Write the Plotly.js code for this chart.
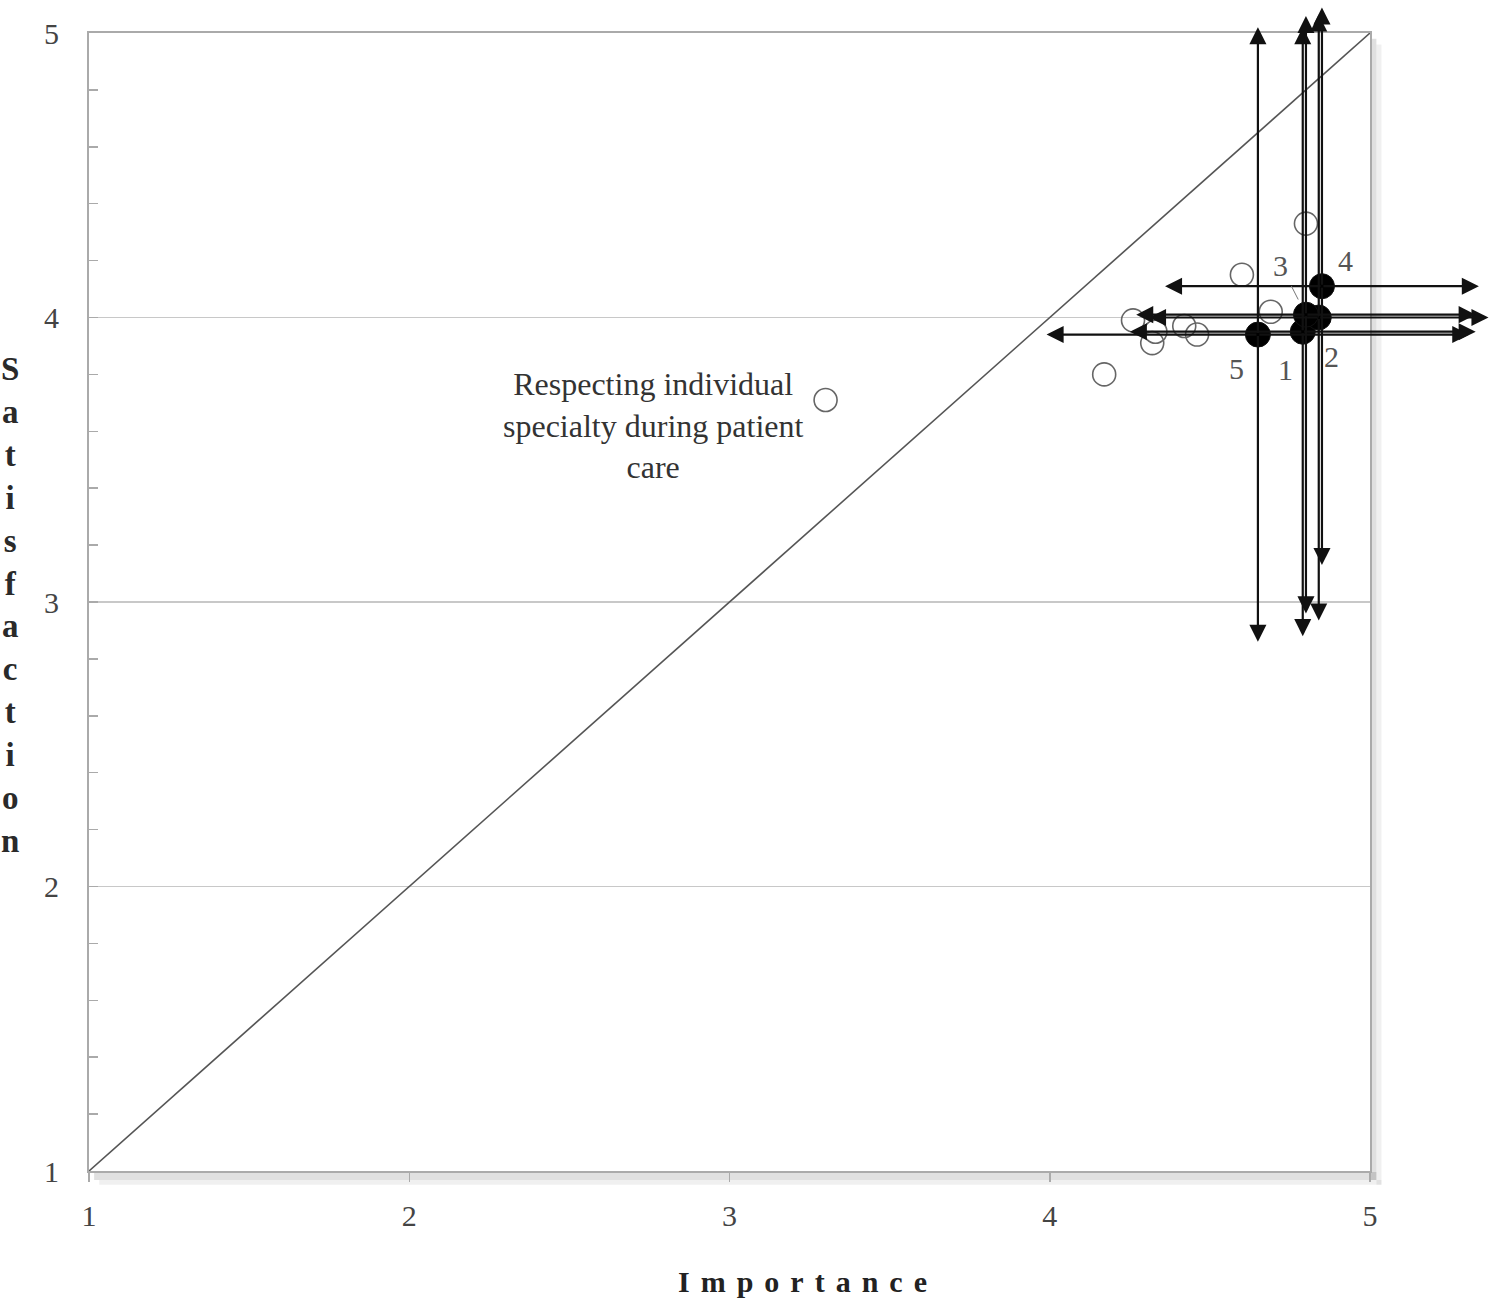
<!DOCTYPE html>
<html>
<head>
<meta charset="utf-8">
<script src="https://cdn.plot.ly/plotly-3.0.1.min.js"></script>
<style>
  body { margin: 0; background: #fff; }
  #chart { width: 1489px; height: 1303px; }
  g.annotation[data-index="0"] text { letter-spacing: 11px; }
</style>
</head>
<body>
<div id="chart"></div>
<script>
// Open circles: other items (Importance, Satisfaction)
const otherImportance   = [3.30, 4.17, 4.60, 4.80, 4.69, 4.42, 4.46, 4.26, 4.33, 4.32];
const otherSatisfaction = [3.71, 3.80, 4.15, 4.33, 4.02, 3.97, 3.94, 3.99, 3.95, 3.91];

// Filled circles: labelled items with range arrows
const keyLabels       = ['1', '2', '3', '4', '5'];
const keyImportance   = [4.79, 4.84, 4.80, 4.85, 4.65];
const keySatisfaction = [3.95, 4.00, 4.01, 4.11, 3.94];
const keyImportanceSD   = [0.54, 0.53, 0.53, 0.49, 0.66];
const keySatisfactionSD = [1.07, 1.065, 1.05, 0.98, 1.08];

// Equality line
const diagX = [1, 5];
const diagY = [1, 5];

const axisTicks = [1, 2, 3, 4, 5];
const noteText = 'Respecting individual<br>specialty during patient<br>care';
const noteX = 2.76, noteY = 3.62;

const serif = 'Liberation Serif, Times New Roman, serif';

// Pixel offsets of the number labels relative to their points (layout only)
const labelShift = {
  '1': [-17, -38], '2': [13, -39], '3': [-25, 49], '4': [24, 26], '5': [-21, -34]
};

const traces = [
  { x: diagX, y: diagY, mode: 'lines', line: { color: '#555', width: 1.6 }, hoverinfo: 'skip' },
  { x: otherImportance, y: otherSatisfaction, mode: 'markers',
    marker: { symbol: 'circle', size: 23, color: 'rgba(255,255,255,0)', line: { color: '#666', width: 1.6 } } },
  { x: keyImportance, y: keySatisfaction, mode: 'markers',
    marker: { symbol: 'circle', size: 25, color: '#000', line: { color: '#111', width: 1 } } }
];

const annotations = [];
// x-axis title (index 0, letter-spaced via CSS)
annotations.push({ text: 'Importance', xref: 'paper', yref: 'paper', x: 0.561, y: -0.0975,
  xanchor: 'center', yanchor: 'middle', showarrow: false,
  font: { family: serif, size: 30, color: '#222', weight: 'bold' } });
// y-axis title, stacked letters
annotations.push({ text: 'Satisfaction'.split('').join('<br>'), xref: 'paper', yref: 'paper',
  x: -0.0617, y: 0.497, xanchor: 'center', yanchor: 'middle', align: 'center', showarrow: false,
  font: { family: serif, size: 33, color: '#2a2a2a', weight: 'bold' } });
// note
annotations.push({ text: noteText, x: noteX, y: noteY, xref: 'x', yref: 'y', showarrow: false,
  align: 'center', font: { family: serif, size: 32, color: '#333' } });

// range arrows
keyLabels.forEach((lab, i) => {
  const cx = keyImportance[i], cy = keySatisfaction[i];
  const dx = keyImportanceSD[i], dy = keySatisfactionSD[i];
  const ends = [[cx - dx, cy], [cx + dx, cy], [cx, cy - dy], [cx, cy + dy]];
  ends.forEach(e => {
    annotations.push({ text: '', x: e[0], y: e[1], xref: 'x', yref: 'y',
      ax: cx, ay: cy, axref: 'x', ayref: 'y', showarrow: true,
      arrowhead: 2, arrowsize: 1.55, arrowwidth: 2.2, arrowcolor: '#111' });
  });
});
// number labels
keyLabels.forEach((lab, i) => {
  const s = labelShift[lab];
  if (lab === '3') {
    annotations.push({ text: lab, x: keyImportance[i], y: keySatisfaction[i], xref: 'x', yref: 'y',
      showarrow: true, ax: s[0], ay: -s[1], arrowhead: 0, arrowwidth: 1, arrowcolor: '#777',
      standoff: 17, startstandoff: 3,
      font: { family: serif, size: 30, color: '#555' } });
  } else {
    annotations.push({ text: lab, x: keyImportance[i], y: keySatisfaction[i], xref: 'x', yref: 'y',
      showarrow: false, xshift: s[0], yshift: s[1],
      font: { family: serif, size: 30, color: '#555' } });
  }
});

const shapes = [
  // soft drop shadow right and bottom of plot frame
  { type: 'rect', xref: 'paper', yref: 'paper', x0: 1.0008, x1: 1.005, y0: -0.008, y1: 0.995,
    fillcolor: 'rgba(0,0,0,0.12)', line: { width: 0 }, layer: 'below' },
  { type: 'rect', xref: 'paper', yref: 'paper', x0: 1.005, x1: 1.009, y0: -0.012, y1: 0.99,
    fillcolor: 'rgba(0,0,0,0.06)', line: { width: 0 }, layer: 'below' },
  { type: 'rect', xref: 'paper', yref: 'paper', x0: 0.004, x1: 1.005, y0: -0.008, y1: -0.0008,
    fillcolor: 'rgba(0,0,0,0.12)', line: { width: 0 }, layer: 'below' },
  { type: 'rect', xref: 'paper', yref: 'paper', x0: 0.008, x1: 1.009, y0: -0.012, y1: -0.008,
    fillcolor: 'rgba(0,0,0,0.06)', line: { width: 0 }, layer: 'below' }
];

const layout = {
  width: 1489, height: 1303,
  margin: { l: 89, r: 119, t: 33, b: 132 },
  paper_bgcolor: '#fff', plot_bgcolor: '#fff',
  showlegend: false,
  font: { family: serif, color: '#444' },
  xaxis: {
    range: [1, 5], tickvals: axisTicks, ticks: 'outside', ticklen: 9, tickcolor: '#aaa', tickwidth: 1.5,
    showline: true, linecolor: '#aaa', linewidth: 2, mirror: true,
    showgrid: false, zeroline: false, ticklabelstandoff: 8,
    tickfont: { family: serif, size: 30, color: '#444' }
  },
  yaxis: {
    range: [1, 5], tickvals: axisTicks, ticks: 'inside', ticklen: 9, tickcolor: '#aaa', tickwidth: 1.5,
    showline: true, linecolor: '#aaa', linewidth: 2, mirror: true,
    showgrid: true, gridcolor: '#c8c8c8', gridwidth: 1.5, zeroline: false, ticklabelstandoff: 22,
    minor: { dtick: 0.2, ticks: 'inside', ticklen: 9, tickcolor: '#aaa', tickwidth: 1.5, showgrid: false },
    tickfont: { family: serif, size: 30, color: '#444' }
  },
  annotations: annotations,
  shapes: shapes
};

Plotly.newPlot('chart', traces, layout, { displayModeBar: false, staticPlot: true });
</script>
</body>
</html>
